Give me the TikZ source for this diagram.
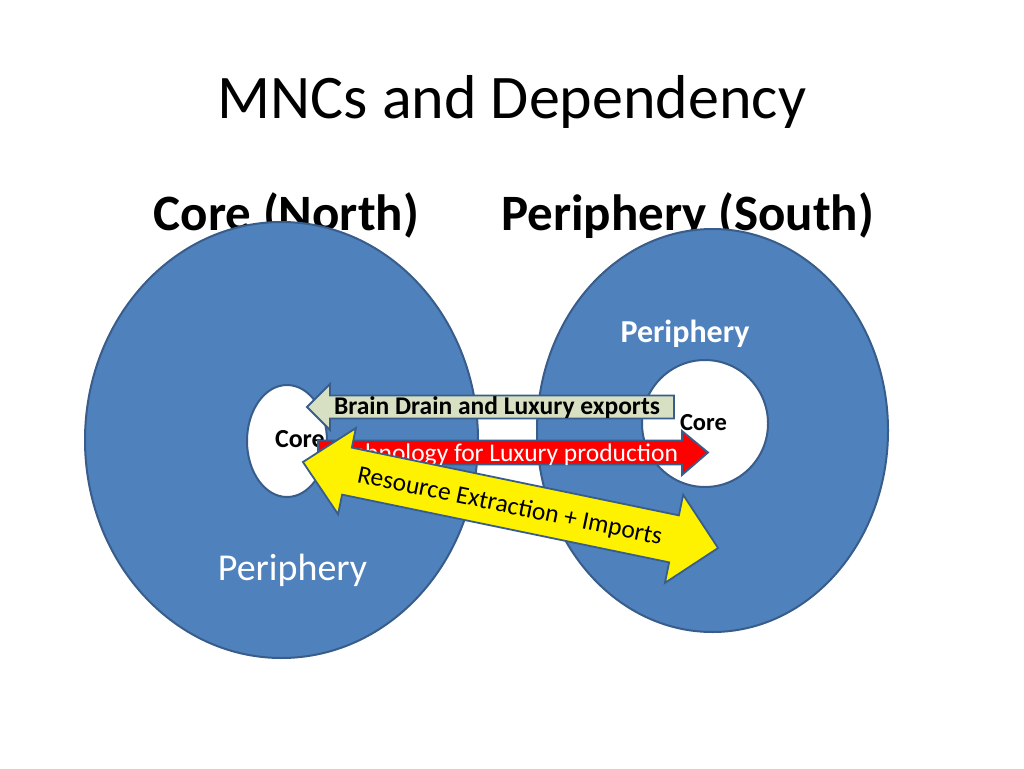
\documentclass[tikz,border=0pt]{standalone}
\usepackage{fontspec}
\setmainfont{Carlito}
\begin{document}
\begin{tikzpicture}[x=1pt,y=-1pt,
  blobstyle/.style={fill={rgb,255:red,79;green,129;blue,189},draw={rgb,255:red,56;green,93;blue,138},line width=2pt},
  holestyle/.style={fill=white,draw={rgb,255:red,56;green,93;blue,138},line width=2pt},
  arrowshape/.style={draw={rgb,255:red,56;green,93;blue,138},line width=1.8pt,line join=miter},
  txt/.style={inner sep=0pt,outer sep=0pt}]
\useasboundingbox (0,0) rectangle (1024,768);
\fill[white] (0,0) rectangle (1024,768);
% title and headings
\node[txt,anchor=base] (title) at (512,118) {\fontsize{62}{70}\selectfont MNCs and Dependency};
\node[txt,anchor=base] (north) at (286.5,230) {\fontsize{51}{58}\selectfont\bfseries Core (North)};
\node[txt,anchor=base] (south) at (687.5,230) {\fontsize{51}{58}\selectfont\bfseries Periphery (South)};
% regions
\draw[blobstyle] (281.5,440) ellipse [x radius=196.5, y radius=218];
\draw[blobstyle] (712.5,430.5) ellipse [x radius=175.5, y radius=201.5];
\draw[holestyle] (287,441) ellipse [x radius=40, y radius=56];
\draw[holestyle] (705,423.5) ellipse [x radius=63, y radius=63.5];
% region labels
\node[txt,anchor=base west] (lcore) at (275,447) {\fontsize{26}{30}\selectfont\bfseries Core};
\node[txt,anchor=base,text=white] (lper) at (292.5,580) {\fontsize{38}{44}\selectfont Periphery};
\node[txt,anchor=base,text=white] (rper) at (685,342) {\fontsize{32}{38}\selectfont\bfseries Periphery};
% brain drain arrow
\draw[arrowshape,fill={rgb,255:red,215;green,224;blue,194}]
  (307,407) -- (330,384) -- (330,395.5) -- (674,395.5) -- (674,418.5) -- (330,418.5) -- (330,430) -- cycle;
\node[txt,anchor=base west] (brain) at (334,414) {\fontsize{25.5}{30}\selectfont\bfseries Brain Drain and Luxury exports};
\node[txt,anchor=base west] (rcore) at (680,430) {\fontsize{24.5}{28}\selectfont\bfseries Core};
% technology arrow
\draw[arrowshape,fill=red]
  (318,440.5) -- (682,440.5) -- (682,431) -- (708,452.5) -- (682,475) -- (682,464.5) -- (318,464.5) -- cycle;
\node[txt,anchor=base east,text=white] (tech) at (678,461) {\fontsize{25.5}{30}\selectfont Technology for Luxury production};
% resource double arrow
\begin{scope}[shift={(510.5,505)},rotate=-11.7]
\draw[arrowshape,fill=yellow]
  (-212,0) -- (-167,-44) -- (-167,-24) -- (167,-24) -- (167,-45) -- (212,0) -- (167,45) -- (167,24) -- (-167,24) -- (-167,44) -- cycle;
\end{scope}
\node[txt,anchor=base,rotate=-11.7] (res) at (508.3,513.5) {\fontsize{25.5}{30}\selectfont Resource Extraction + Imports};
\end{tikzpicture}
\end{document}
